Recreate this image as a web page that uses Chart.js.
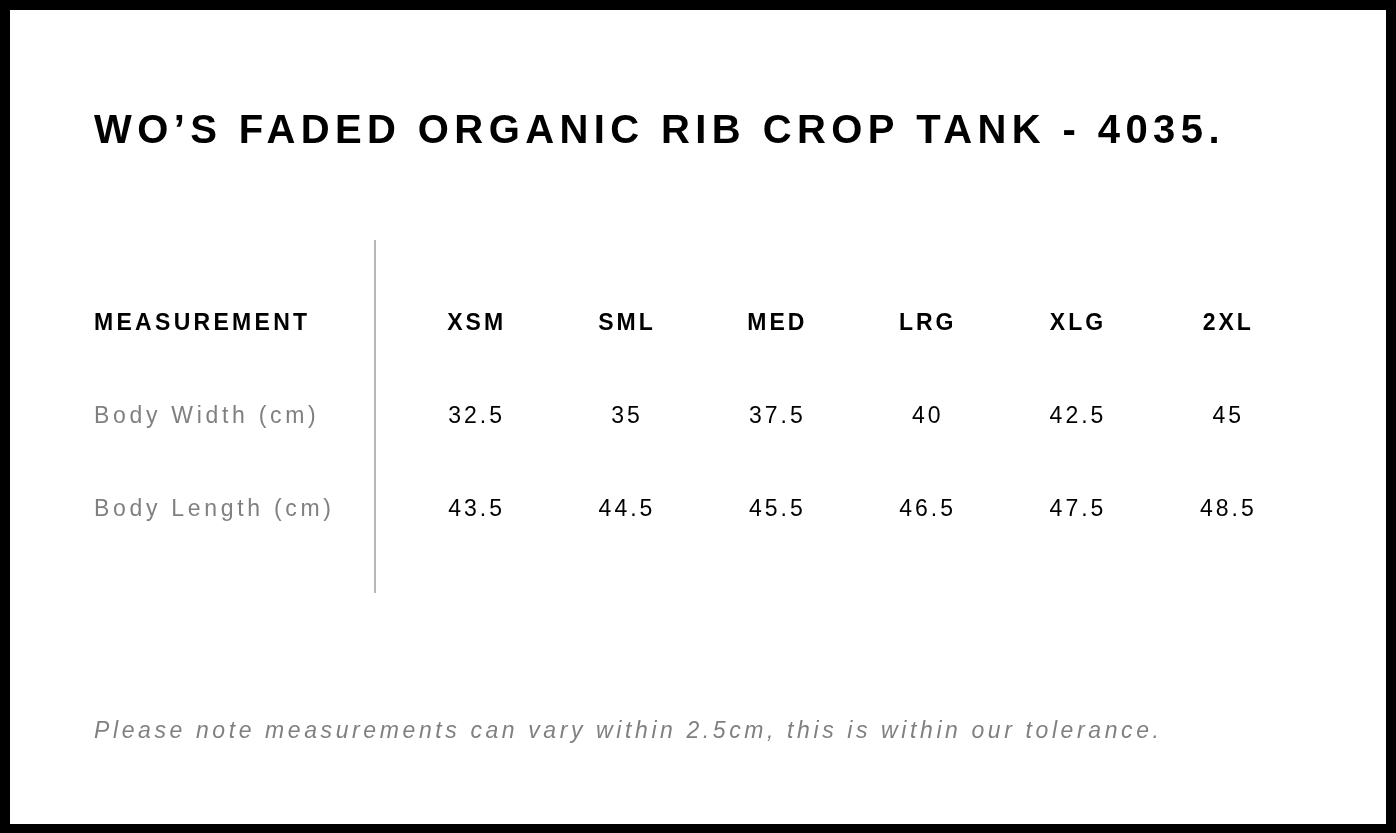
<!DOCTYPE html>
<html><head><meta charset="utf-8">
<script src="https://cdn.jsdelivr.net/npm/chart.js@4/dist/chart.umd.min.js"></script>
<style>html,body{margin:0;padding:0;background:#fff;overflow:hidden}</style>
</head><body>
<canvas id="c" width="1396" height="833"></canvas>
<script>
const title = "WO’S FADED ORGANIC RIB CROP TANK - 4035.";
const sizes = ["XSM","SML","MED","LRG","XLG","2XL"];
const rows = ["MEASUREMENT","Body Width (cm)","Body Length (cm)"];
const bodyWidth = ["32.5","35","37.5","40","42.5","45"];
const bodyLength = ["43.5","44.5","45.5","46.5","47.5","48.5"];
const note = "Please note measurements can vary within 2.5cm, this is within our tolerance.";
const F = '"Liberation Sans", Arial, sans-serif';

function txt(ctx, s, x, y, font, color, spacing, align){
  ctx.save(); ctx.font = font; ctx.fillStyle = color; ctx.letterSpacing = spacing + 'px';
  ctx.textBaseline = 'middle';
  let w = ctx.measureText(s).width - spacing;
  let sx = align === 'center' ? x - w/2 : x;
  ctx.textAlign = 'left'; ctx.fillText(s, sx, y); ctx.restore();
}
const tablePlugin = {
  id: 'table',
  beforeDraw(chart){
    const ctx = chart.ctx;
    ctx.save(); ctx.fillStyle = '#000'; ctx.fillRect(0,0,1396,833);
    ctx.fillStyle = '#fff'; ctx.fillRect(10,10,1376,814); ctx.restore();
  },
  afterDatasetsDraw(chart){
    const ctx = chart.ctx, x = chart.scales.x, y = chart.scales.y;
    txt(ctx, title, 94, 132, 'bold 40px '+F, '#000', 5.4, 'left');
    ctx.save(); ctx.strokeStyle = '#888'; ctx.lineWidth = 1.2;
    ctx.beginPath(); ctx.moveTo(375, 240); ctx.lineTo(375, 593); ctx.stroke(); ctx.restore();
    rows.forEach((r,j)=>{
      const py = y.getPixelForValue(j);
      if (j===0) txt(ctx, r, 94, py, 'bold 23px '+F, '#000', 3.3, 'left');
      else txt(ctx, r, 94, py, '23px '+F, '#808080', 3.7, 'left');
    });
    sizes.forEach((s,i)=>{
      const px = x.getPixelForValue(i);
      txt(ctx, s, px, y.getPixelForValue(0), 'bold 23px '+F, '#000', 3.0, 'center');
      txt(ctx, bodyWidth[i], px, y.getPixelForValue(1), '23px '+F, '#000', 3.0, 'center');
      txt(ctx, bodyLength[i], px, y.getPixelForValue(2), '23px '+F, '#000', 3.0, 'center');
    });
    txt(ctx, note, 94, 732, 'italic 23px '+F, '#808080', 3.6, 'left');
  }
};
new Chart(document.getElementById('c'), {
  type: 'scatter',
  data: { datasets: [{ data: sizes.map((s,i)=>({x:i,y:0})), pointRadius:0 }] },
  options: {
    responsive:false, devicePixelRatio:1, animation:false,
    layout:{padding:{left:400,right:94,top:277,bottom:277}},
    plugins:{legend:{display:false},tooltip:{enabled:false}},
    scales:{
      x:{type:'category',labels:sizes,offset:true,display:false},
      y:{type:'category',labels:rows,offset:true,display:false}
    }
  },
  plugins:[tablePlugin]
});
</script>
</body></html>
